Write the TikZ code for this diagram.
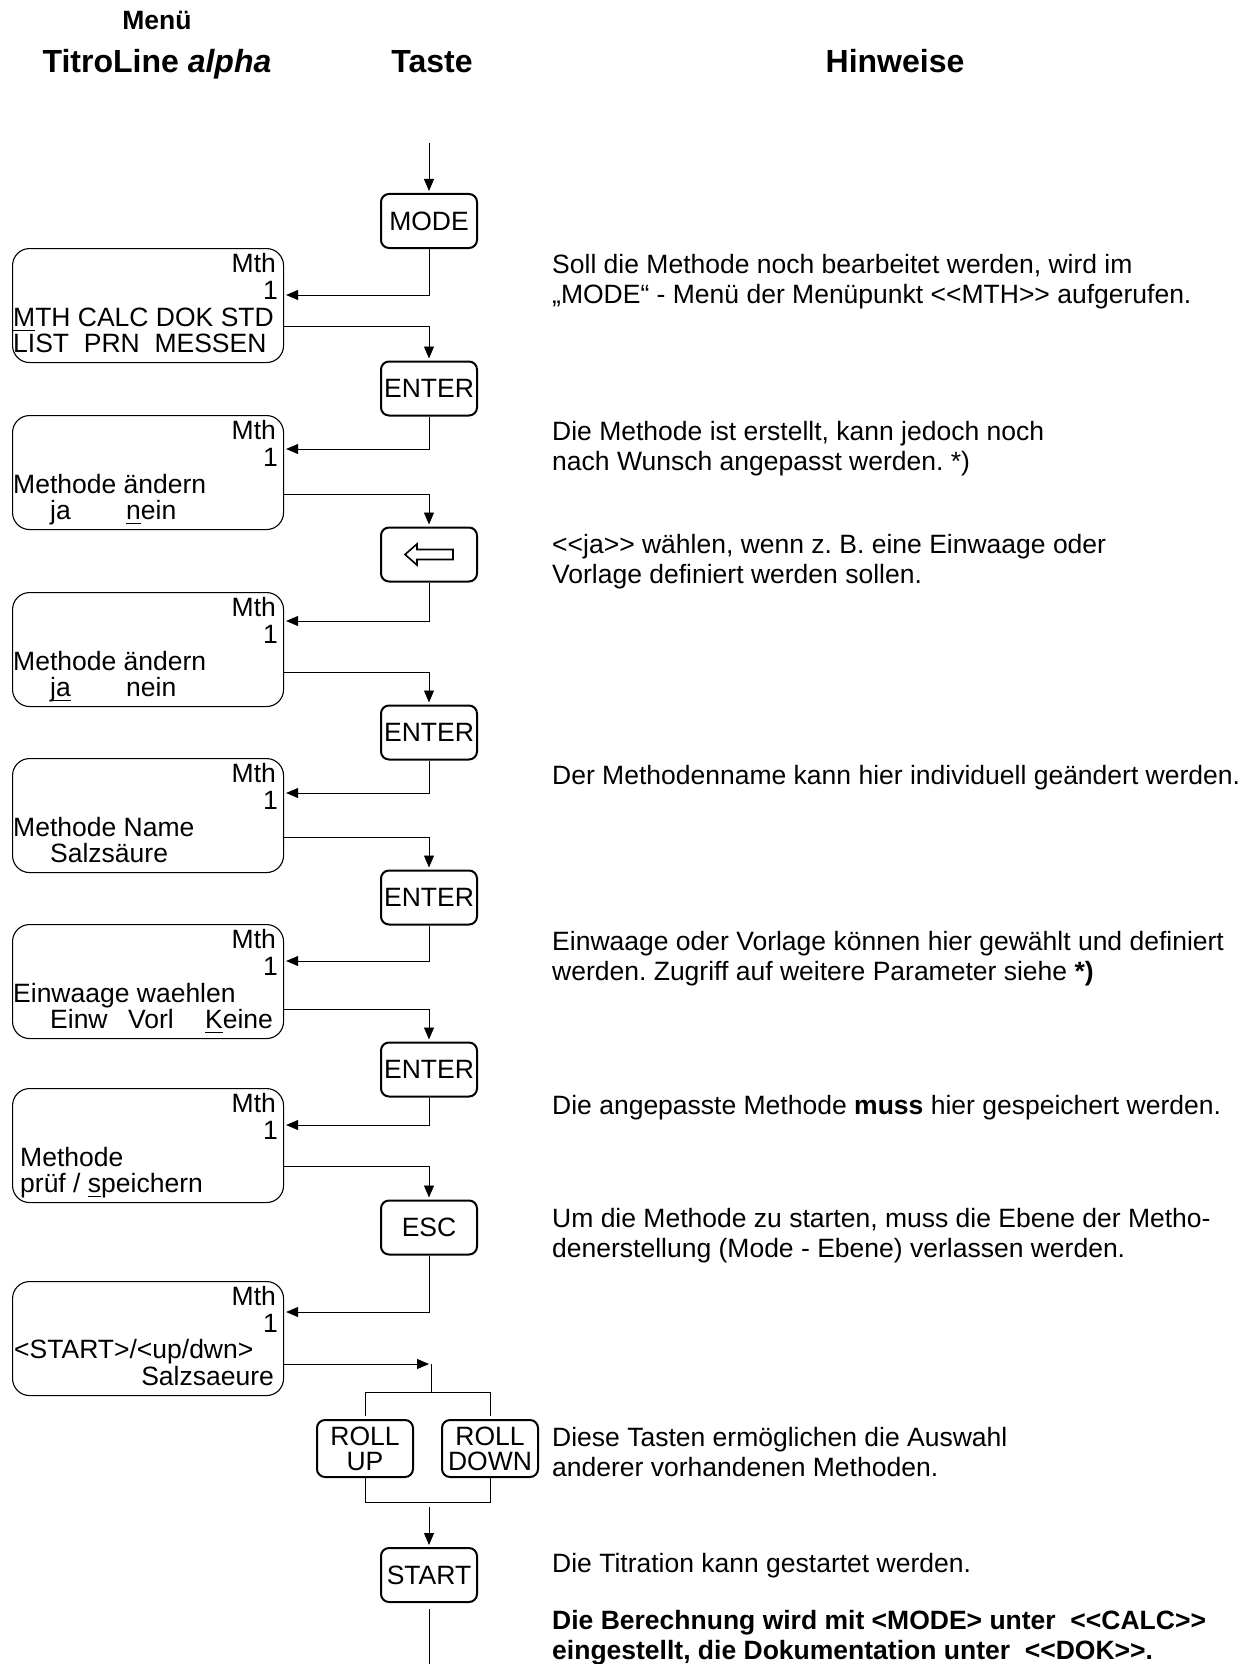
\documentclass[tikz,border=0pt]{standalone}
\usepackage{fontspec}
\setmainfont{Liberation Sans}
\usetikzlibrary{arrows.meta,calc}
\frenchspacing

\newcommand{\lcdfont}{\fontsize{26.5}{26}\selectfont}
\newcommand{\hinfont}{\fontsize{26.5}{30.5}\selectfont}
\newcommand{\ustrich}[1]{\setbox0=\hbox{#1}\rlap{\rule[-5pt]{\wd0}{1.5pt}}\box0}
\newcommand{\dlt}{<\kern0pt<}
\newcommand{\dgt}{>\kern0pt>}

\tikzstyle{kopf}=[anchor=base,inner sep=0pt,font=\fontsize{32}{32}\selectfont\bfseries]
\tikzstyle{taste}=[draw,rounded corners=8pt,line width=2pt,minimum width=96pt,minimum height=54pt,inner sep=1pt,font=\fontsize{26.5}{25}\selectfont]
\tikzstyle{anzeige}=[draw,anchor=north west,rounded corners=17pt,line width=1.1pt,minimum width=271pt,minimum height=114pt,inner sep=0pt]
\tikzstyle{zeile}=[inner sep=0pt,font=\lcdfont]
\tikzstyle{hinweis}=[anchor=base west,align=left,inner sep=0pt,font=\hinfont]
\tikzstyle{pfeil}=[-{Triangle[length=12pt,width=10pt]},line width=0.9pt,shorten >=2pt]
\tikzstyle{linie}=[line width=0.9pt]

\begin{document}
\begin{tikzpicture}[x=1pt,y=-1pt]
    \useasboundingbox (0,0) rectangle (1249,1664);

    % Kopfzeile
    \node[kopf,font=\fontsize{26.5}{26}\selectfont\bfseries] (menue) at (157,30) {Menü};
    \node[kopf] (geraet) at (157,73) {TitroLine \textit{alpha}};
    \node[kopf] (taste) at (432,73) {Taste};
    \node[kopf] (hinweise) at (895,73) {Hinweise};

    % Tasten
    \node[taste] (mode)    at (429,221)   {MODE};
    \node[taste] (enter1)  at (429,388.5) {ENTER};
    \node[taste] (zurueck) at (429,554.5) {};
    \node[taste] (enter2)  at (429,732.5) {ENTER};
    \node[taste] (enter3)  at (429,897.5) {ENTER};
    \node[taste] (enter4)  at (429,1069.5) {ENTER};
    \node[taste] (esc)     at (429,1227.5) {ESC};
    \node[taste,align=center,minimum height=57pt] (rollup)   at (365,1448.5) {ROLL\\UP};
    \node[taste,align=center,minimum height=57pt] (rolldown) at (490,1448.5) {ROLL\\DOWN};
    \node[taste] (start)   at (429,1575)  {START};
    \draw[line width=1.6pt,shift={(zurueck.center)}] (-24,0) -- (-12,-10.5) -- (-12,-5) -- (24,-5)
        -- (24,5) -- (-12,5) -- (-12,10.5) -- cycle;

    % Anzeigen
    \foreach \n/\t/\e/\a in {b1/248/47/78,b2/415/34/79,b3/592/29/80,b4/758/35/79,b5/924/37/85,b6/1088/37/78,b7/1281/31/83} {
        \node[anzeige] (\n) at (12,\t) {};
        \node[zeile,anchor=base east] (\n-mth) at ($(\n.north east)+(-8,24)$) {Mth};
        \node[zeile,anchor=base east] (\n-nr) at ($(\n.north east)+(-6,51)$) {1};
        \coordinate (\n-ein) at ($(\n.north east)+(0,\e)$);
        \coordinate (\n-aus) at ($(\n.north east)+(0,\a)$);
    }
    \node[zeile,anchor=base west] (b1-z3) at ($(b1.north west)+(1,78)$) {\ustrich{M}TH CALC DOK STD};
    \node[zeile,anchor=base west] (b1-z4) at ($(b1.north west)+(1,104)$) {LIST\ \ PRN\ \ MESSEN};
    \node[zeile,anchor=base west] (b2-z3) at ($(b2.north west)+(1,78)$) {Methode ändern};
    \node[zeile,anchor=base west] (b2-z4) at ($(b2.north west)+(38,104)$) {\makebox[76pt][l]{ja}\ustrich{n}ein};
    \node[zeile,anchor=base west] (b3-z3) at ($(b3.north west)+(1,78)$) {Methode ändern};
    \node[zeile,anchor=base west] (b3-z4) at ($(b3.north west)+(38,104)$) {\makebox[76pt][l]{\ustrich{ja}}nein};
    \node[zeile,anchor=base west] (b4-z3) at ($(b4.north west)+(1,78)$) {Methode Name};
    \node[zeile,anchor=base west] (b4-z4) at ($(b4.north west)+(38,104)$) {Salzsäure};
    \node[zeile,anchor=base west] (b5-z3) at ($(b5.north west)+(1,78)$) {Einwaage waehlen};
    \node[zeile,anchor=base west] (b5-z4) at ($(b5.north west)+(38,104)$) {\makebox[78pt][l]{Einw}\makebox[77pt][l]{Vorl}\ustrich{K}eine};
    \node[zeile,anchor=base west] (b6-z3) at ($(b6.north west)+(8,78)$) {Methode};
    \node[zeile,anchor=base west] (b6-z4) at ($(b6.north west)+(8,104)$) {prüf / \ustrich{s}peichern};
    \node[zeile,anchor=base west] (b7-z3) at ($(b7.north west)+(2,77)$) {<START>/<up/dwn>};
    \node[zeile,anchor=base east] (b7-z4) at ($(b7.north east)+(-10,104)$) {Salzsaeure};

    % Verbindungen
    \coordinate (anfang) at (429,143);
    \coordinate (verteiler) at (431,1364);
    \coordinate (gabel) at (431,1392);
    \coordinate (sammel) at (429,1502);
    \coordinate (sammel2) at (429,1507);
    \coordinate (ende) at (429,1664);
    \draw[pfeil] (anfang) -- (mode.north);
    \foreach \von/\nach in {mode/b1,enter1/b2,zurueck/b3,enter2/b4,enter3/b5,enter4/b6,esc/b7}
        \draw[pfeil] (\von.south) |- (\nach-ein);
    \foreach \von/\nach in {b1/enter1,b2/zurueck,b3/enter2,b4/enter3,b5/enter4,b6/esc}
        \draw[pfeil] (\von-aus) -| (\nach.north);
    \draw[pfeil] (b7-aus) -- (verteiler);
    \draw[linie] (verteiler) -- (gabel);
    \draw[linie] ([yshift=3pt]rollup.north) |- (gabel) -| ([yshift=3pt]rolldown.north);
    \draw[linie] (rollup.south) |- (sammel) -| (rolldown.south);
    \draw[pfeil] (sammel2) -- (start.north);
    \draw[linie] ([yshift=-6pt]start.south) -- (ende);

    % Hinweise (bei zwei Zeilen: Grundlinie der letzten Zeile)
    \node[hinweis] (h1) at (552,303.5) {Soll die Methode noch bearbeitet werden, wird im\\„MODE“ - Menü der Menüpunkt \dlt MTH\dgt{} aufgerufen.};
    \node[hinweis] (h2) at (552,470.5) {Die Methode ist erstellt, kann jedoch noch\\nach Wunsch angepasst werden. *)};
    \node[hinweis] (h3) at (552,583.5) {\dlt ja\dgt{} wählen, wenn z. B. eine Einwaage oder\\Vorlage definiert werden sollen.};
    \node[hinweis] (h4) at (552,784) {Der Methodenname kann hier individuell geändert werden.};
    \node[hinweis] (h5) at (552,980.5) {Einwaage oder Vorlage können hier gewählt und definiert\\werden. Zugriff auf weitere Parameter siehe \textbf{*)}};
    \node[hinweis] (h6) at (552,1114) {Die angepasste Methode \textbf{muss} hier gespeichert werden.};
    \node[hinweis] (h7) at (552,1257.5) {Um die Methode zu starten, muss die Ebene der Metho-\\denerstellung (Mode - Ebene) verlassen werden.};
    \node[hinweis] (h8) at (552,1476.5) {Diese Tasten ermöglichen die Auswahl\\anderer vorhandenen Methoden.};
    \node[hinweis] (h9) at (552,1572) {Die Titration kann gestartet werden.};
    \node[hinweis,font=\hinfont\bfseries] (h10) at (552,1659.5) {Die Berechnung wird mit <MODE> unter\ \ \dlt CALC\dgt\\eingestellt, die Dokumentation unter\ \ \dlt DOK\dgt.};
\end{tikzpicture}
\end{document}
